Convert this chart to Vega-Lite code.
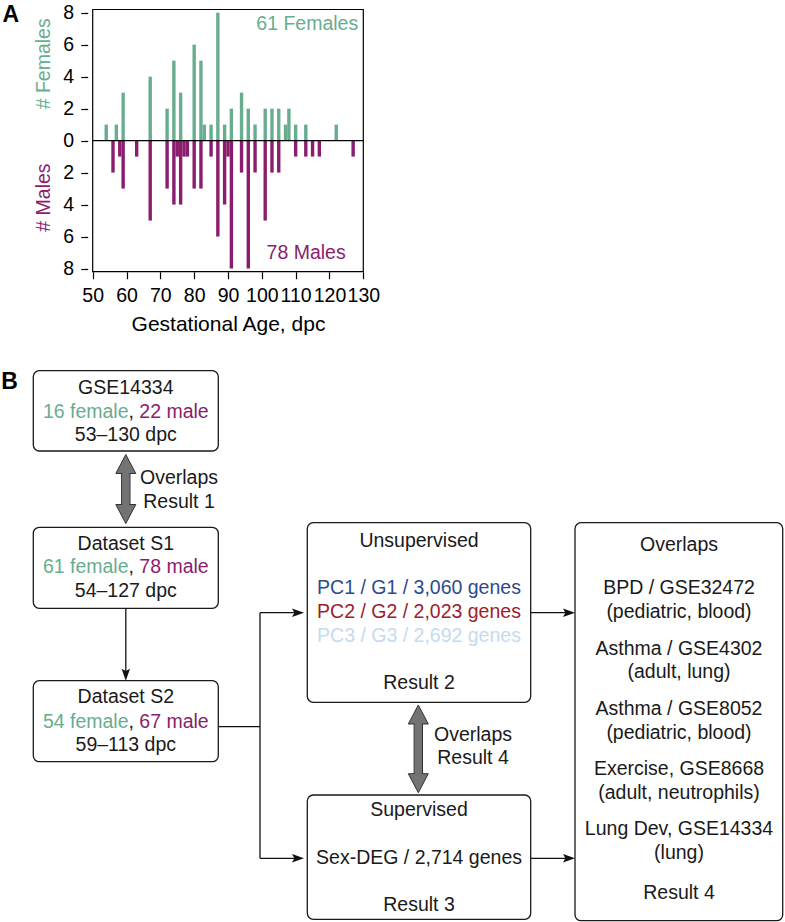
{
  "$schema": "https://vega.github.io/schema/vega-lite/v6.json",
  "width": 785,
  "height": 922,
  "autosize": {"type": "none"},
  "padding": 0,
  "background": "white",
  "config": {"view": {"stroke": null}, "font": "Liberation Sans"},
  "datasets": {
    "counts": [
      {"age": 54, "sex": "Female", "signed_count": 1},
      {"age": 57, "sex": "Female", "signed_count": 1},
      {"age": 59, "sex": "Female", "signed_count": 3},
      {"age": 67, "sex": "Female", "signed_count": 4},
      {"age": 72, "sex": "Female", "signed_count": 2},
      {"age": 74, "sex": "Female", "signed_count": 5},
      {"age": 76, "sex": "Female", "signed_count": 3},
      {"age": 80, "sex": "Female", "signed_count": 6},
      {"age": 82, "sex": "Female", "signed_count": 5},
      {"age": 83, "sex": "Female", "signed_count": 1},
      {"age": 85, "sex": "Female", "signed_count": 1},
      {"age": 87, "sex": "Female", "signed_count": 8},
      {"age": 89, "sex": "Female", "signed_count": 1},
      {"age": 91, "sex": "Female", "signed_count": 2},
      {"age": 94, "sex": "Female", "signed_count": 3},
      {"age": 96, "sex": "Female", "signed_count": 2},
      {"age": 98, "sex": "Female", "signed_count": 1},
      {"age": 101, "sex": "Female", "signed_count": 2},
      {"age": 103, "sex": "Female", "signed_count": 2},
      {"age": 105, "sex": "Female", "signed_count": 2},
      {"age": 107, "sex": "Female", "signed_count": 1},
      {"age": 108, "sex": "Female", "signed_count": 2},
      {"age": 110, "sex": "Female", "signed_count": 1},
      {"age": 113, "sex": "Female", "signed_count": 1},
      {"age": 122, "sex": "Female", "signed_count": 1},
      {"age": 56, "sex": "Male", "signed_count": -2},
      {"age": 58, "sex": "Male", "signed_count": -1},
      {"age": 59, "sex": "Male", "signed_count": -3},
      {"age": 63, "sex": "Male", "signed_count": -1},
      {"age": 67, "sex": "Male", "signed_count": -5},
      {"age": 72, "sex": "Male", "signed_count": -3},
      {"age": 74, "sex": "Male", "signed_count": -4},
      {"age": 75, "sex": "Male", "signed_count": -1},
      {"age": 76, "sex": "Male", "signed_count": -4},
      {"age": 77, "sex": "Male", "signed_count": -1},
      {"age": 78, "sex": "Male", "signed_count": -1},
      {"age": 80, "sex": "Male", "signed_count": -3},
      {"age": 82, "sex": "Male", "signed_count": -3},
      {"age": 85, "sex": "Male", "signed_count": -1},
      {"age": 87, "sex": "Male", "signed_count": -6},
      {"age": 89, "sex": "Male", "signed_count": -4},
      {"age": 90, "sex": "Male", "signed_count": -1},
      {"age": 91, "sex": "Male", "signed_count": -8},
      {"age": 94, "sex": "Male", "signed_count": -2},
      {"age": 96, "sex": "Male", "signed_count": -8},
      {"age": 98, "sex": "Male", "signed_count": -2},
      {"age": 101, "sex": "Male", "signed_count": -5},
      {"age": 103, "sex": "Male", "signed_count": -2},
      {"age": 105, "sex": "Male", "signed_count": -2},
      {"age": 110, "sex": "Male", "signed_count": -1},
      {"age": 113, "sex": "Male", "signed_count": -1},
      {"age": 115, "sex": "Male", "signed_count": -1},
      {"age": 117, "sex": "Male", "signed_count": -1},
      {"age": 127, "sex": "Male", "signed_count": -1}
    ],
    "boxes": [
      {"name": "GSE14334", "x1": 33.3, "x2": 218.3, "y1": 370.7, "y2": 451},
      {"name": "S1", "x1": 33.3, "x2": 218.3, "y1": 527.3, "y2": 608.3},
      {"name": "S2", "x1": 33.3, "x2": 218.3, "y1": 680.7, "y2": 761.7},
      {"name": "Unsupervised", "x1": 307.3, "x2": 530.7, "y1": 522.7, "y2": 702.3},
      {"name": "Supervised", "x1": 307.3, "x2": 530.7, "y1": 795, "y2": 919.3},
      {"name": "Overlaps", "x1": 575, "x2": 782.7, "y1": 522.7, "y2": 920.7}
    ],
    "links": [
      {"x1": 125.8, "y1": 608.3, "x2": 125.8, "y2": 676},
      {"x1": 218.3, "y1": 726.7, "x2": 260, "y2": 726.7},
      {"x1": 260, "y1": 612.7, "x2": 260, "y2": 858.3},
      {"x1": 260, "y1": 612.7, "x2": 300, "y2": 612.7},
      {"x1": 260, "y1": 858.3, "x2": 300, "y2": 858.3},
      {"x1": 530.7, "y1": 612.7, "x2": 571, "y2": 612.7},
      {"x1": 530.7, "y1": 858.3, "x2": 571, "y2": 858.3}
    ],
    "heads": [
      {"x": 304, "y": 612.7, "dir": "right"},
      {"x": 304, "y": 858.3, "dir": "right"},
      {"x": 575, "y": 612.7, "dir": "right"},
      {"x": 575, "y": 858.3, "dir": "right"},
      {"x": 125.8, "y": 680.7, "dir": "down"}
    ],
    "shafts": [
      {"x1": 121.6, "x2": 130, "y1": 473.5, "y2": 504.5},
      {"x1": 414.1, "x2": 422.5, "y1": 724, "y2": 773.7}
    ],
    "tips": [
      {"x": 125.8, "y": 454.5, "dir": "up"},
      {"x": 125.8, "y": 523.5, "dir": "down"},
      {"x": 418.3, "y": 705, "dir": "up"},
      {"x": 418.3, "y": 792.7, "dir": "down"}
    ],
    "labels": [
      {"x": 125.8, "y": 388.3, "text": "GSE14334", "kind": "black"},
      {"x": 125.8, "y": 435, "text": "53–130 dpc", "kind": "black"},
      {"x": 125.8, "y": 544, "text": "Dataset S1", "kind": "black"},
      {"x": 125.8, "y": 590.7, "text": "54–127 dpc", "kind": "black"},
      {"x": 125.8, "y": 697.3, "text": "Dataset S2", "kind": "black"},
      {"x": 125.8, "y": 745, "text": "59–113 dpc", "kind": "black"},
      {"x": 179, "y": 478, "text": "Overlaps", "kind": "black"},
      {"x": 179, "y": 502, "text": "Result 1", "kind": "black"},
      {"x": 419, "y": 540.7, "text": "Unsupervised", "kind": "black"},
      {"x": 419, "y": 588.3, "text": "PC1 / G1 / 3,060 genes", "kind": "pc1"},
      {"x": 419, "y": 612.3, "text": "PC2 / G2 / 2,023 genes", "kind": "pc2"},
      {"x": 419, "y": 636, "text": "PC3 / G3 / 2,692 genes", "kind": "pc3"},
      {"x": 419, "y": 683.3, "text": "Result 2", "kind": "black"},
      {"x": 473, "y": 735, "text": "Overlaps", "kind": "black"},
      {"x": 473, "y": 758.3, "text": "Result 4", "kind": "black"},
      {"x": 419, "y": 810, "text": "Supervised", "kind": "black"},
      {"x": 419, "y": 858.3, "text": "Sex-DEG / 2,714 genes", "kind": "black"},
      {"x": 419, "y": 905, "text": "Result 3", "kind": "black"},
      {"x": 679, "y": 545, "text": "Overlaps", "kind": "black"},
      {"x": 679, "y": 588.3, "text": "BPD / GSE32472", "kind": "black"},
      {"x": 679, "y": 611.7, "text": "(pediatric, blood)", "kind": "black"},
      {"x": 679, "y": 649, "text": "Asthma / GSE4302", "kind": "black"},
      {"x": 679, "y": 672.3, "text": "(adult, lung)", "kind": "black"},
      {"x": 679, "y": 709.3, "text": "Asthma / GSE8052", "kind": "black"},
      {"x": 679, "y": 732.7, "text": "(pediatric, blood)", "kind": "black"},
      {"x": 679, "y": 769.3, "text": "Exercise, GSE8668", "kind": "black"},
      {"x": 679, "y": 792.7, "text": "(adult, neutrophils)", "kind": "black"},
      {"x": 679, "y": 829.3, "text": "Lung Dev, GSE14334", "kind": "black"},
      {"x": 679, "y": 852.7, "text": "(lung)", "kind": "black"},
      {"x": 679, "y": 893.3, "text": "Result 4", "kind": "black"}
    ],
    "segments": [
      {"x": 42.9, "y": 411.7, "text": "16 female", "kind": "female"},
      {"x": 128.5, "y": 411.7, "text": ",", "kind": "black"},
      {"x": 139.3, "y": 411.7, "text": "22 male", "kind": "male"},
      {"x": 42.9, "y": 567.3, "text": "61 female", "kind": "female"},
      {"x": 128.5, "y": 567.3, "text": ",", "kind": "black"},
      {"x": 139.3, "y": 567.3, "text": "78 male", "kind": "male"},
      {"x": 42.9, "y": 721.7, "text": "54 female", "kind": "female"},
      {"x": 128.5, "y": 721.7, "text": ",", "kind": "black"},
      {"x": 139.3, "y": 721.7, "text": "67 male", "kind": "male"}
    ],
    "panels": [
      {"x": 2.5, "y": 14.6, "text": "A"},
      {"x": 1.2, "y": 381.8, "text": "B"}
    ]
  },
  "layer": [
    {
      "layer": [
        {
          "data": {"name": "counts"},
          "mark": {"type": "bar", "width": 3.4},
          "encoding": {
            "x": {
              "field": "age", "type": "quantitative",
              "scale": {"domain": [50, 130], "range": [87.7, 368.3], "nice": false, "zero": false},
              "axis": {
                "orient": "bottom", "offset": -650.3,
                "values": [50, 60, 70, 80, 90, 100, 110, 120, 130],
                "domain": false, "grid": false,
                "tickSize": 7, "tickColor": "black", "tickWidth": 1.2,
                "labelFontSize": 19.5, "labelColor": "black", "labelPadding": 8,
                "labelFlush": false, "labelOverlap": false, "labelBound": false,
                "title": "Gestational Age, dpc", "titleFontSize": 21, "titleFontWeight": "normal",
                "titleColor": "black", "titlePadding": 8
              }
            },
            "y": {
              "field": "signed_count", "type": "quantitative", "stack": null,
              "scale": {"domain": [-8.2, 8.2], "range": [271.7, 9.5], "nice": false, "zero": false},
              "axis": {
                "orient": "left", "offset": -87.7,
                "values": [-8, -6, -4, -2, 0, 2, 4, 6, 8],
                "labelExpr": "abs(datum.value)",
                "domain": false, "grid": false,
                "tickSize": 7, "tickColor": "black", "tickWidth": 1.2,
                "labelFontSize": 19.5, "labelColor": "black", "labelPadding": 7,
                "labelOverlap": false, "labelBound": false,
                "title": null
              }
            },
            "color": {
              "field": "sex", "type": "nominal",
              "scale": {"domain": ["Female", "Male"], "range": ["#68ad8e", "#8b1d6e"]},
              "legend": null
            }
          }
        },
        {
          "data": {"values": [{}]},
          "mark": {"type": "rule", "color": "black", "strokeWidth": 1.2},
          "encoding": {
            "x": {"datum": 50, "type": "quantitative"},
            "x2": {"datum": 130},
            "y": {"datum": 0, "type": "quantitative"}
          }
        },
        {
          "data": {"values": [{}]},
          "mark": {"type": "rect", "fillOpacity": 0, "stroke": "black", "strokeWidth": 1.2},
          "encoding": {
            "x": {"datum": 50, "type": "quantitative"},
            "x2": {"datum": 130},
            "y": {"datum": -8.2, "type": "quantitative"},
            "y2": {"datum": 8.2}
          }
        },
        {
          "data": {"values": [{"t": "61 Females"}]},
          "mark": {"type": "text", "align": "right", "baseline": "middle", "fontSize": 19.5, "color": "#68ad8e"},
          "encoding": {
            "x": {"datum": 128.5, "type": "quantitative"},
            "y": {"datum": 7.3, "type": "quantitative"},
            "text": {"field": "t"}
          }
        },
        {
          "data": {"values": [{"t": "78 Males"}]},
          "mark": {"type": "text", "align": "right", "baseline": "middle", "fontSize": 19.5, "color": "#8b1d6e"},
          "encoding": {
            "x": {"datum": 124.8, "type": "quantitative"},
            "y": {"datum": -7.0, "type": "quantitative"},
            "text": {"field": "t"}
          }
        },
        {
          "data": {"values": [{"t": "# Females"}]},
          "mark": {"type": "text", "align": "center", "baseline": "middle", "angle": 270, "fontSize": 19.5, "color": "#68ad8e"},
          "encoding": {
            "x": {"datum": 35.6, "type": "quantitative"},
            "y": {"datum": 4.8, "type": "quantitative"},
            "text": {"field": "t"}
          }
        },
        {
          "data": {"values": [{"t": "# Males"}]},
          "mark": {"type": "text", "align": "center", "baseline": "middle", "angle": 270, "fontSize": 19.5, "color": "#8b1d6e"},
          "encoding": {
            "x": {"datum": 35.7, "type": "quantitative"},
            "y": {"datum": -3.56, "type": "quantitative"},
            "text": {"field": "t"}
          }
        }
      ]
    },
    {
      "layer": [
        {
          "data": {"name": "links"},
          "mark": {"type": "rule", "color": "#111111", "strokeWidth": 1.3},
          "encoding": {
            "x": {"field": "x1", "type": "quantitative", "scale": {"domain": [0, 785], "nice": false, "zero": false}, "axis": null},
            "x2": {"field": "x2"},
            "y": {"field": "y1", "type": "quantitative", "scale": {"domain": [0, 922], "nice": false, "zero": false, "reverse": true}, "axis": null},
            "y2": {"field": "y2"}
          }
        },
        {
          "data": {"name": "boxes"},
          "mark": {"type": "rect", "fill": "white", "stroke": "#1a1a1a", "strokeWidth": 1.3, "cornerRadius": 6},
          "encoding": {
            "x": {"field": "x1", "type": "quantitative", "scale": {"domain": [0, 785], "nice": false, "zero": false}, "axis": null},
            "x2": {"field": "x2"},
            "y": {"field": "y1", "type": "quantitative", "scale": {"domain": [0, 922], "nice": false, "zero": false, "reverse": true}, "axis": null},
            "y2": {"field": "y2"}
          }
        },
        {
          "data": {"name": "heads"},
          "transform": [{"filter": "datum.dir == 'right'"}],
          "mark": {"type": "point", "shape": "M0,0 L-2,-0.7 L-1.6,0 L-2,0.7 Z", "size": 144, "filled": true, "fill": "#111111", "strokeWidth": 0, "opacity": 1},
          "encoding": {
            "x": {"field": "x", "type": "quantitative", "scale": {"domain": [0, 785], "nice": false, "zero": false}, "axis": null},
            "y": {"field": "y", "type": "quantitative", "scale": {"domain": [0, 922], "nice": false, "zero": false, "reverse": true}, "axis": null}
          }
        },
        {
          "data": {"name": "heads"},
          "transform": [{"filter": "datum.dir == 'down'"}],
          "mark": {"type": "point", "shape": "M0,0 L-2,-0.7 L-1.6,0 L-2,0.7 Z", "angle": 90, "size": 144, "filled": true, "fill": "#111111", "strokeWidth": 0, "opacity": 1},
          "encoding": {
            "x": {"field": "x", "type": "quantitative", "scale": {"domain": [0, 785], "nice": false, "zero": false}, "axis": null},
            "y": {"field": "y", "type": "quantitative", "scale": {"domain": [0, 922], "nice": false, "zero": false, "reverse": true}, "axis": null}
          }
        },
        {
          "data": {"name": "shafts"},
          "mark": {"type": "rect", "fill": "#737373", "stroke": "#333333", "strokeWidth": 1, "yOffset": -3, "y2Offset": 3},
          "encoding": {
            "x": {"field": "x1", "type": "quantitative", "scale": {"domain": [0, 785], "nice": false, "zero": false}, "axis": null},
            "x2": {"field": "x2"},
            "y": {"field": "y1", "type": "quantitative", "scale": {"domain": [0, 922], "nice": false, "zero": false, "reverse": true}, "axis": null},
            "y2": {"field": "y2"}
          }
        },
        {
          "data": {"name": "tips"},
          "transform": [{"filter": "datum.dir == 'up'"}],
          "mark": {"type": "point", "shape": "M0,0 L1,1.9 L-1,1.9 Z", "size": 400, "filled": true, "fill": "#737373", "stroke": "#333333", "strokeWidth": 1, "opacity": 1},
          "encoding": {
            "x": {"field": "x", "type": "quantitative", "scale": {"domain": [0, 785], "nice": false, "zero": false}, "axis": null},
            "y": {"field": "y", "type": "quantitative", "scale": {"domain": [0, 922], "nice": false, "zero": false, "reverse": true}, "axis": null}
          }
        },
        {
          "data": {"name": "tips"},
          "transform": [{"filter": "datum.dir == 'down'"}],
          "mark": {"type": "point", "shape": "M0,0 L1,-1.9 L-1,-1.9 Z", "size": 400, "filled": true, "fill": "#737373", "stroke": "#333333", "strokeWidth": 1, "opacity": 1},
          "encoding": {
            "x": {"field": "x", "type": "quantitative", "scale": {"domain": [0, 785], "nice": false, "zero": false}, "axis": null},
            "y": {"field": "y", "type": "quantitative", "scale": {"domain": [0, 922], "nice": false, "zero": false, "reverse": true}, "axis": null}
          }
        },
        {
          "data": {"name": "shafts"},
          "mark": {"type": "rect", "fill": "#737373", "strokeWidth": 0, "xOffset": 0.7, "x2Offset": -0.7, "yOffset": -1.3, "y2Offset": 1.3},
          "encoding": {
            "x": {"field": "x1", "type": "quantitative", "scale": {"domain": [0, 785], "nice": false, "zero": false}, "axis": null},
            "x2": {"field": "x2"},
            "y": {"field": "y1", "type": "quantitative", "scale": {"domain": [0, 922], "nice": false, "zero": false, "reverse": true}, "axis": null},
            "y2": {"field": "y2"}
          }
        },
        {
          "data": {"name": "labels"},
          "mark": {"type": "text", "align": "center", "baseline": "middle", "fontSize": 19.5},
          "encoding": {
            "x": {"field": "x", "type": "quantitative", "scale": {"domain": [0, 785], "nice": false, "zero": false}, "axis": null},
            "y": {"field": "y", "type": "quantitative", "scale": {"domain": [0, 922], "nice": false, "zero": false, "reverse": true}, "axis": null},
            "text": {"field": "text"},
            "color": {
              "field": "kind", "type": "nominal",
              "scale": {"domain": ["black", "female", "male", "pc1", "pc2", "pc3"], "range": ["#1a1a1a", "#68ad8e", "#8b1d6e", "#2b4b8c", "#a01c2c", "#c4dbef"]},
              "legend": null
            }
          }
        },
        {
          "data": {"name": "segments"},
          "mark": {"type": "text", "align": "left", "baseline": "middle", "fontSize": 19.5},
          "encoding": {
            "x": {"field": "x", "type": "quantitative", "scale": {"domain": [0, 785], "nice": false, "zero": false}, "axis": null},
            "y": {"field": "y", "type": "quantitative", "scale": {"domain": [0, 922], "nice": false, "zero": false, "reverse": true}, "axis": null},
            "text": {"field": "text"},
            "color": {
              "field": "kind", "type": "nominal",
              "scale": {"domain": ["black", "female", "male", "pc1", "pc2", "pc3"], "range": ["#1a1a1a", "#68ad8e", "#8b1d6e", "#2b4b8c", "#a01c2c", "#c4dbef"]},
              "legend": null
            }
          }
        },
        {
          "data": {"name": "panels"},
          "mark": {"type": "text", "align": "left", "baseline": "middle", "fontSize": 23, "fontWeight": "bold", "color": "black"},
          "encoding": {
            "x": {"field": "x", "type": "quantitative", "scale": {"domain": [0, 785], "nice": false, "zero": false}, "axis": null},
            "y": {"field": "y", "type": "quantitative", "scale": {"domain": [0, 922], "nice": false, "zero": false, "reverse": true}, "axis": null},
            "text": {"field": "text"}
          }
        }
      ]
    }
  ],
  "resolve": {
    "scale": {"x": "independent", "y": "independent", "color": "independent"},
    "axis": {"x": "independent", "y": "independent"}
  }
}
